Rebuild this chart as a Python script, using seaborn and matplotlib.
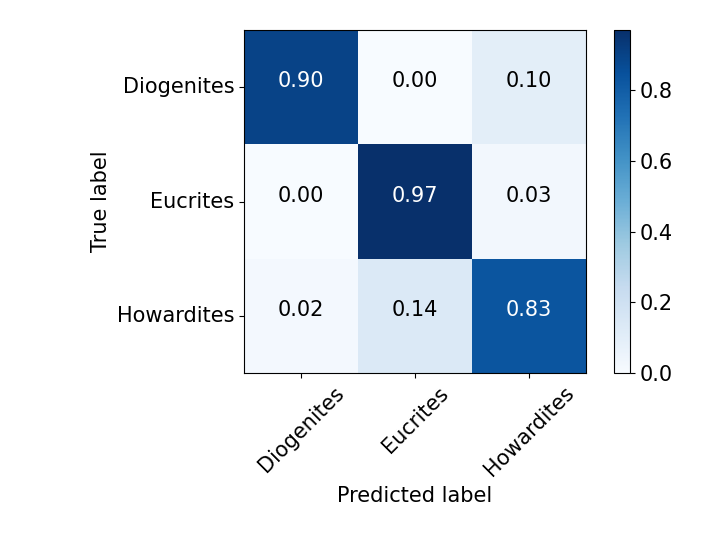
import matplotlib
matplotlib.use("Agg")
import matplotlib.pyplot as plt
import seaborn as sns
import numpy as np

classes = ["Diogenites", "Eucrites", "Howardites"]
row_diogenites = [0.90, 0.00, 0.10]
row_eucrites = [0.00, 0.97, 0.03]
row_howardites = [0.02, 0.14, 0.83]

cm = np.array([row_diogenites, row_eucrites, row_howardites])

fig = plt.figure(figsize=(7.18, 5.51), dpi=100)
ax = fig.add_axes([0.340, 0.323, 0.476, 0.6225])
cax = fig.add_axes([0.855, 0.323, 0.0223, 0.6225])

sns.heatmap(cm, cmap="Blues", vmin=0.0, vmax=cm.max(), ax=ax, cbar_ax=cax,
            annot=False, square=False, linewidths=0)

# numbers sit on the cell centre line (baseline alignment)
thresh = cm.max() / 2.0
for i in range(cm.shape[0]):
    for j in range(cm.shape[1]):
        ax.text(j + 0.5, i + 0.5, format(cm[i, j], ".2f"),
                ha="center", va="baseline", fontsize=15,
                color="white" if cm[i, j] > thresh else "black")

for s in ax.spines.values():
    s.set_visible(True)
    s.set_linewidth(0.8)
    s.set_color("black")

ax.set_xticks(np.arange(len(classes)) + 0.5)
ax.set_yticks(np.arange(len(classes)) + 0.5)
ax.set_xticklabels(classes, rotation=45, fontsize=15)
ax.set_yticklabels(classes, rotation=0, fontsize=15, va="center")
ax.tick_params(axis="both", length=3.5, width=0.8, direction="out")
ax.set_xlabel("Predicted label", fontsize=15)
ax.set_ylabel("True label", fontsize=15)

cb = ax.collections[0].colorbar
cb.outline.set_linewidth(0.8)
cb.outline.set_edgecolor("black")
cb.set_ticks([0.0, 0.2, 0.4, 0.6, 0.8])
cax.tick_params(labelsize=15, length=3.5, width=0.8)

plt.savefig("out.png", dpi=100)
plt.close()
